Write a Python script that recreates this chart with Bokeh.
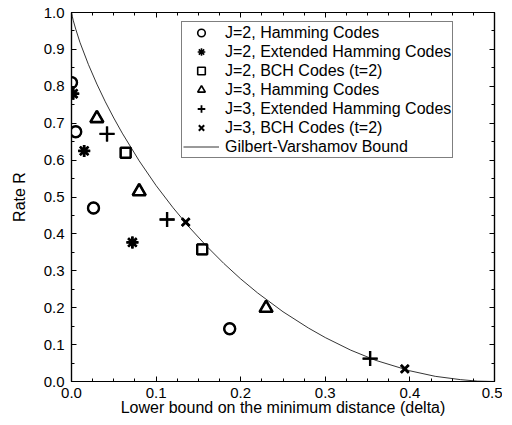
from bokeh.plotting import figure
from bokeh.models import (LinearAxis, SingleIntervalTicker, PrintfTickFormatter,
                          CustomJSTickFormatter, Legend, LegendItem, Range1d)
from bokeh.embed import file_html
from bokeh.resources import INLINE

# ---- data ----
ham2_x = [0.000, 0.005, 0.026, 0.187]
ham2_y = [0.810, 0.677, 0.470, 0.143]
ext2_x = [0.002, 0.015, 0.072]
ext2_y = [0.780, 0.625, 0.377]
bch2_x = [0.064, 0.1545]
bch2_y = [0.620, 0.358]
ham3_x = [0.030, 0.080, 0.230]
ham3_y = [0.713, 0.515, 0.199]
ext3_x = [0.042, 0.113, 0.353]
ext3_y = [0.671, 0.439, 0.062]
bch3_x = [0.135, 0.394]
bch3_y = [0.432, 0.034]

gv_delta = [0.0, 0.001, 0.002, 0.005, 0.01, 0.02, 0.03, 0.04, 0.05, 0.06, 0.08,
            0.10, 0.12, 0.14, 0.16, 0.18, 0.20, 0.22, 0.25, 0.28, 0.30, 0.33,
            0.36, 0.40, 0.43, 0.46, 0.48, 0.50]
gv_rate = [1.0, 0.989, 0.979, 0.955, 0.919, 0.859, 0.806, 0.758, 0.714, 0.673, 0.598,
           0.531, 0.471, 0.416, 0.366, 0.320, 0.278, 0.240, 0.189, 0.145, 0.119, 0.085,
           0.057, 0.029, 0.014, 0.005, 0.001, 0.0]

labels = ["J=2, Hamming Codes", "J=2, Extended Hamming Codes", "J=2, BCH Codes (t=2)",
          "J=3, Hamming Codes", "J=3, Extended Hamming Codes", "J=3, BCH Codes (t=2)",
          "Gilbert-Varshamov Bound"]

FONT = "Liberation Sans"

p = figure(frame_width=423, frame_height=369, output_backend="svg", toolbar_location=None,
           x_range=Range1d(0, 0.5), y_range=Range1d(0, 1.0),
           min_border_left=71, min_border_top=12, min_border_right=8, min_border_bottom=30,
           x_axis_label="Lower bound on the minimum distance (delta)", y_axis_label="Rate R")
p.xgrid.visible = False
p.ygrid.visible = False
p.outline_line_color = "black"
p.outline_line_width = 1.2

# marker, size, stroke in plot, stroke of the (hidden-underneath) legend swatch
markers = [("circle", 11, 2.4, 1.6), ("asterisk", 12, 2.8, 1.6), ("square", 10, 2.4, 1.6),
           ("triangle", 13, 2.6, 1.7), ("cross", 15, 2.4, 1.8), ("x", 11, 2.8, 2.0)]
series = [(ham2_x, ham2_y), (ext2_x, ext2_y), (bch2_x, bch2_y),
          (ham3_x, ham3_y), (ext3_x, ext3_y), (bch3_x, bch3_y)]

gv = p.line(gv_delta, gv_rate, line_color="black", line_width=0.8)
legend_renderers = []
for (mk, sz, lw, llw), (xs, ys) in zip(markers, series):
    # thin-stroked copy, fully covered by the bold marker drawn on top; used as the legend swatch
    legend_renderers.append(p.scatter(xs, ys, marker=mk, size=sz, fill_color=None,
                                      line_color="black", line_width=llw))
    p.scatter(xs, ys, marker=mk, size=sz, fill_color=None, line_color="black", line_width=lw)
legend_renderers.append(gv)

xt = SingleIntervalTicker(interval=0.1, num_minor_ticks=4)
yt = SingleIntervalTicker(interval=0.1, num_minor_ticks=2)


def style(ax, show, label_standoff=4, axis_standoff=3):
    ax.axis_line_color = "black"
    ax.axis_line_width = 1.2
    ax.major_tick_in = 5
    ax.major_tick_out = 0
    ax.minor_tick_in = 3
    ax.minor_tick_out = 0
    ax.major_tick_line_color = "black"
    ax.minor_tick_line_color = "black"
    if show:
        ax.formatter = PrintfTickFormatter(format="%.1f")
        ax.major_label_text_font = FONT
        ax.major_label_text_font_size = "15px"
        ax.major_label_text_color = "black"
        ax.axis_label_text_font = FONT
        ax.axis_label_text_font_size = "16px"
        ax.axis_label_text_font_style = "normal"
        ax.axis_label_text_color = "black"
        ax.major_label_standoff = label_standoff
        ax.axis_label_standoff = axis_standoff
    else:
        ax.formatter = CustomJSTickFormatter(code="return ''")
        ax.major_label_standoff = 0


p.xaxis[0].ticker = xt
p.yaxis[0].ticker = yt
style(p.xaxis[0], True, label_standoff=6, axis_standoff=-2)
style(p.yaxis[0], True, label_standoff=7, axis_standoff=13)

top = LinearAxis(ticker=xt)
right = LinearAxis(ticker=yt)
style(top, False)
style(right, False)
p.add_layout(top, "above")
p.add_layout(right, "right")

items = [LegendItem(label=labels[i], renderers=[r]) for i, r in enumerate(legend_renderers)]
leg = Legend(items=items, location=(110, 223), border_line_color="black", border_line_width=1,
             background_fill_color="white", background_fill_alpha=1.0,
             label_text_font=FONT, label_text_font_size="16px", label_text_color="black",
             glyph_width=36, glyph_height=19, label_height=19, spacing=0, padding=1,
             label_standoff=6, margin=0)
p.add_layout(leg, "center")

open("out.html", "w").write(file_html(p, INLINE))
